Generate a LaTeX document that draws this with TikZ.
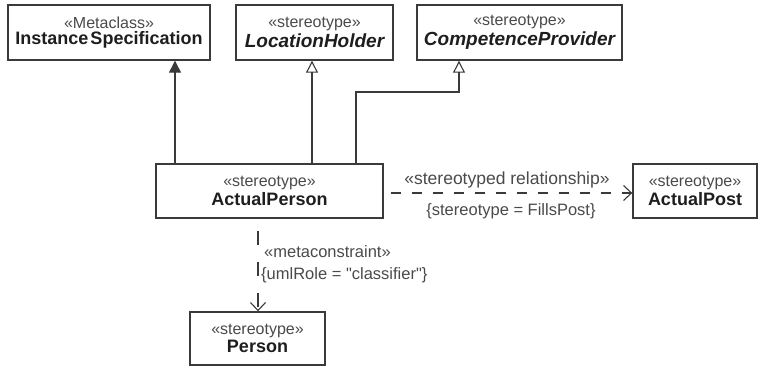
\documentclass[tikz,border=0pt]{standalone}
\usepackage{fontspec}
\setmainfont{Liberation Sans}
\newfontfamily\qfont{Liberation Sans}
\usetikzlibrary{arrows.meta}
\definecolor{stc}{HTML}{4A4A4A}
\definecolor{nmc}{HTML}{1E1E1E}
\definecolor{lnc}{HTML}{3A3A3A}
\newcommand{\stt}[1]{{\color{stc}\fontsize{16}{18}\selectfont #1}}
\newcommand{\nmm}[1]{{\color{nmc}\fontsize{18}{20}\selectfont\bfseries #1}}
\newcommand{\nmi}[1]{{\color{nmc}\fontsize{19}{20}\selectfont\bfseries\itshape #1}}
\newcommand{\dq}{{\qfont\symbol{34}}}
\begin{document}
\begin{tikzpicture}[x=1pt,y=-1pt,
  cls/.style={draw=lnc, line width=1.4pt, fill=white, inner sep=0pt, align=center},
  conn/.style={draw=lnc, line width=1.2pt},
  gen/.style={conn, -{Triangle[open, length=12pt, width=12pt, line width=1.1pt]}},
  genf/.style={conn, -{Triangle[length=12pt, width=12pt, fill=lnc]}},
  dep/.style={conn, -{Straight Barb[length=8pt, width=15pt, line width=1.1pt]}},
  lbl/.style={inner sep=0pt, text=stc, font=\fontsize{17.5}{20}\selectfont},
  lbls/.style={inner sep=0pt, text=stc, font=\fontsize{16.5}{19}\selectfont}]
\useasboundingbox (0,0) rectangle (759,366);

\node[cls, minimum width=202pt, minimum height=55pt] (is) at (109,32.5)
  {\stt{«Metaclass»}\\[2pt]\nmm{Instance\kern2pt Specification}};
\node[cls, minimum width=157pt, minimum height=55pt] (lh) at (314.5,32.5)
  {\stt{«stereotype»}\\[2pt]\nmi{LocationHolder}};
\node[cls, minimum width=205pt, minimum height=55pt] (cp) at (519.5,32.5)
  {\stt{«stereotype»}\\[2pt]\nmi{CompetenceProvider}};
\node[cls, minimum width=227pt, minimum height=54pt] (ap) at (269.5,191)
  {\stt{«stereotype»}\\[2pt]\nmm{ActualPerson}};
\node[cls, minimum width=124pt, minimum height=54pt] (post) at (695,191)
  {\stt{«stereotype»}\\[2pt]\nmm{ActualPost}};
\node[cls, minimum width=135pt, minimum height=53pt] (person) at (257.5,338.5)
  {\stt{«stereotype»}\\[2pt]\nmm{Person}};

% generalizations
\draw[genf] (ap.north -| 175,0) -- (is.south -| 175,0);
\draw[gen] (ap.north -| 312,0) -- (lh.south -| 312,0);
\coordinate (bend1) at (356,92);
\coordinate (bend2) at (459,92);
\draw[gen] (ap.north -| bend1) -- (bend1) -- (bend2) -- (cp.south -| bend2);

% stereotyped relationship
\draw[dep, dash pattern=on 10pt off 11pt, dash phase=14pt] (ap.east |- 0,193) -- (post.west |- 0,193);
\node[lbl] (rel) at (507,180) {«stereotyped relationship»};
\node[lbls] (relc) at (511,211) {\{stereotype = FillsPost\}};

% metaconstraint
\draw[dep, dash pattern=on 14pt off 17pt, dash phase=19pt] (ap.south -| 258,0) -- (person.north -| 258,0);
\node[lbls, anchor=west] (mc) at (264,252) {«metaconstraint»};
\node[lbls, anchor=west] (mcc) at (261,275) {\{umlRole = \dq classifier\dq\}};
\end{tikzpicture}
\end{document}
